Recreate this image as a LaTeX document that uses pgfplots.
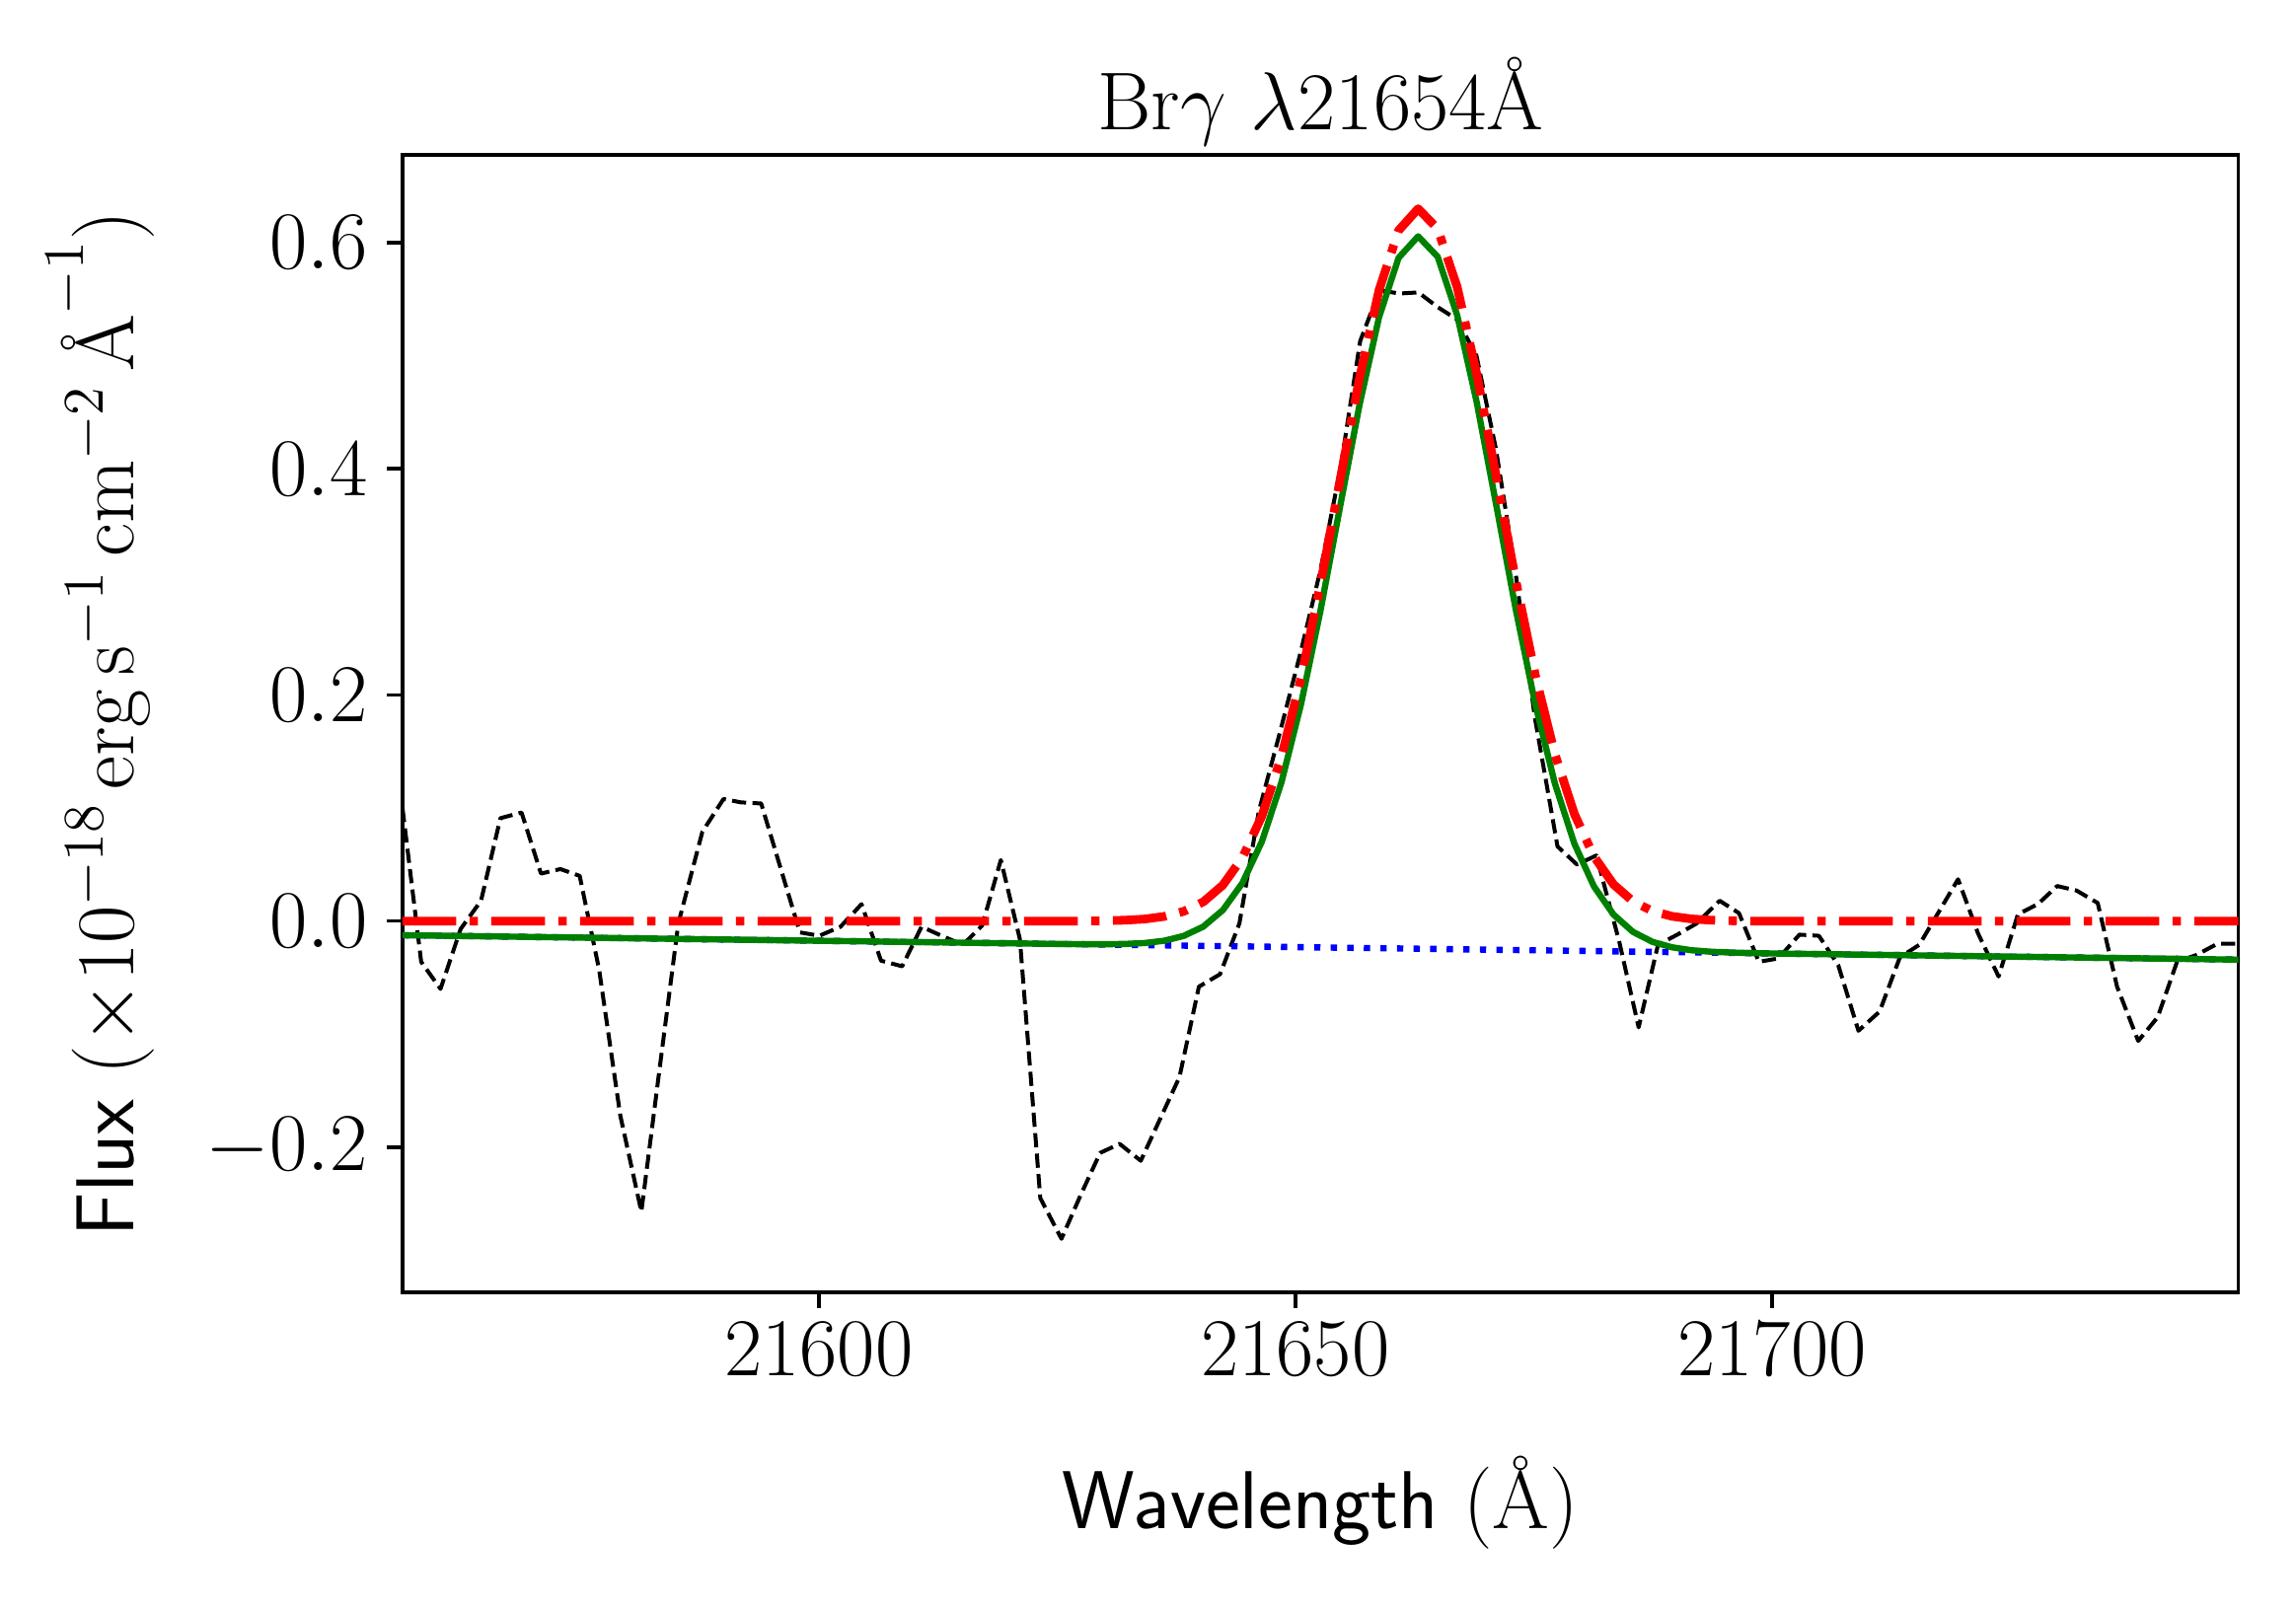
\RequirePackage{fix-cm}
\documentclass[border=0pt]{standalone}
\usepackage{pgfplots}
\pgfplotsset{compat=1.18}
\definecolor{mplgreen}{RGB}{0,128,0}
\newcommand{\lblfont}{\fontsize{20.8}{24}\selectfont}
\begin{document}
\begin{tikzpicture}
\useasboundingbox (0,0) rectangle (581.75pt,407.5pt);
\begin{axis}[
  at={(101.98pt,79.95pt)}, anchor=south west,
  scale only axis, width=465.18pt, height=288.3pt,
  xmin=21556.31, xmax=21748.91, ymin=-0.3285, ymax=0.6776,
  axis line style={line width=0.9pt},
  xtick={21600,21650,21700}, ytick={-0.2,0,0.2,0.4,0.6},
  scaled x ticks=false, scaled y ticks=false,
  xtick pos=bottom, ytick pos=left, tick align=outside,
  major tick length=3.9pt, tick style={line width=0.9pt, black},
  tick label style={font=\lblfont},
  xticklabel style={/pgf/number format/fixed, /pgf/number format/precision=0, /pgf/number format/1000 sep={}, anchor=base, yshift=-17.3pt},
  yticklabel style={/pgf/number format/fixed, /pgf/number format/fixed zerofill, /pgf/number format/precision=1, anchor=east, inner sep=0pt, xshift=-4.8pt},
  title={Br$\gamma$ $\lambda$21654\AA},
  every axis title/.style={at={(axis description cs:0.5,1)}, anchor=base, yshift=6.3pt, font=\lblfont, inner sep=0pt},
  xlabel={\textsf{Wavelength} (\AA)},
  every axis x label/.style={at={(axis description cs:0.5,0)}, anchor=base, yshift=-59.7pt, font=\lblfont, inner sep=0pt},
  ylabel={\textsf{Flux} ($\times10^{-18}\,\mathrm{erg\,s^{-1}\,cm^{-2}}\,\mbox{\AA}^{-1}$)},
  every axis y label/.style={at={(axis description cs:-0.1466,0.5)}, anchor=base, rotate=90, font=\lblfont, inner sep=0pt},
]
% observed spectrum
\addplot[black, line width=1.0pt, dash pattern=on 3.6pt off 1.6pt, line join=round] coordinates {
(21556.31,0.100) (21558.27,-0.036) (21560.30,-0.060) (21562.41,-0.007) (21564.55,0.018)
(21566.58,0.091) (21568.80,0.096) (21570.84,0.042) (21572.87,0.046) (21574.90,0.040)
(21576.94,-0.043) (21579.16,-0.172) (21581.37,-0.257) (21583.29,-0.130) (21585.25,-0.002)
(21587.77,0.079) (21589.99,0.108) (21591.80,0.105) (21593.94,0.104) (21595.97,0.047)
(21598.00,-0.010) (21600.04,-0.013) (21602.26,-0.005) (21604.47,0.015) (21606.51,-0.035)
(21608.73,-0.040) (21610.76,-0.005) (21612.87,-0.013) (21615.09,-0.021) (21617.12,-0.004)
(21619.08,0.054) (21621.08,-0.016) (21623.22,-0.245) (21625.44,-0.281) (21627.47,-0.242)
(21629.50,-0.205) (21631.54,-0.197) (21633.76,-0.212) (21635.79,-0.175) (21637.82,-0.138)
(21639.86,-0.058) (21642.08,-0.047) (21644.11,-0.002) (21646.14,0.097) (21648.30,0.165)
(21650.45,0.235) (21652.60,0.310) (21654.70,0.400) (21656.78,0.513) (21658.81,0.558)
(21660.85,0.555) (21662.88,0.556) (21664.91,0.543) (21666.95,0.532) (21668.98,0.500)
(21671.01,0.418) (21673.05,0.310) (21675.10,0.180) (21677.48,0.066) (21679.52,0.050)
(21681.55,0.058) (21683.95,-0.018) (21685.99,-0.094) (21688.02,-0.021) (21690.05,-0.012)
(21692.09,-0.002) (21694.49,0.018) (21696.52,0.007) (21698.60,-0.036) (21700.65,-0.033)
(21702.86,-0.012) (21704.90,-0.013) (21706.93,-0.039) (21709.05,-0.097) (21711.27,-0.080)
(21713.40,-0.032) (21715.43,-0.021) (21717.47,0.008) (21719.50,0.037) (21721.60,-0.011)
(21723.75,-0.049) (21725.78,0.006) (21727.87,0.015) (21729.90,0.031) (21731.93,0.027)
(21734.15,0.016) (21736.18,-0.058) (21738.40,-0.106) (21740.44,-0.085) (21742.47,-0.036)
(21744.50,-0.030) (21746.72,-0.020) (21748.91,-0.020)
};
% continuum
\addplot[blue, line width=1.6pt, dash pattern=on 1.6pt off 2.6pt] coordinates {
(21556.31,-0.0125) (21748.91,-0.0341)
};
% total model
\addplot[mplgreen, line width=1.6pt, line join=round] coordinates {
(21556.31,-0.0125) (21623.93,-0.0201) (21625.98,-0.0203) (21628.03,-0.0205) (21630.07,-0.0205)
(21632.12,-0.0202) (21634.17,-0.0194) (21636.22,-0.0174) (21638.27,-0.0131) (21640.32,-0.0049)
(21642.37,0.0097) (21644.42,0.0336) (21646.47,0.0704) (21648.52,0.1227) (21650.56,0.1913)
(21652.61,0.2744) (21654.66,0.3661) (21656.71,0.4566) (21658.76,0.5341) (21660.81,0.5866)
(21662.86,0.6056) (21664.91,0.5875) (21666.96,0.5357) (21669.01,0.4586) (21671.05,0.3680)
(21673.10,0.2756) (21675.15,0.1916) (21677.20,0.1218) (21679.25,0.0684) (21681.30,0.0307)
(21683.35,0.0058) (21685.40,-0.0096) (21687.45,-0.0184) (21689.50,-0.0232) (21691.54,-0.0258)
(21693.59,-0.0271) (21695.64,-0.0278) (21697.69,-0.0283) (21699.74,-0.0286) (21748.91,-0.0341)
};
% line component
\addplot[red, line width=2.2pt, dash pattern=on 13.6pt off 3.4pt on 2.1pt off 3.4pt, line join=round] coordinates {
(21556.31,0) (21628.03,0) (21630.07,0.0003) (21632.12,0.0008) (21634.17,0.0018)
(21636.22,0.0041) (21638.27,0.0086) (21640.32,0.0170) (21642.37,0.0318) (21644.42,0.0560)
(21646.47,0.0930) (21648.52,0.1455) (21650.56,0.2144) (21652.61,0.2977) (21654.66,0.3896)
(21656.71,0.4803) (21658.76,0.5581) (21660.81,0.6108) (21662.86,0.6300) (21664.91,0.6122)
(21666.96,0.5606) (21669.01,0.4837) (21671.05,0.3933) (21673.10,0.3012) (21675.15,0.2174)
(21677.20,0.1478) (21679.25,0.0947) (21681.30,0.0572) (21683.35,0.0325) (21685.40,0.0174)
(21687.45,0.0088) (21689.50,0.0042) (21691.54,0.0019) (21693.59,0.0008) (21695.64,0.0003)
(21697.69,0) (21748.91,0)
};
\end{axis}
\end{tikzpicture}
\end{document}
